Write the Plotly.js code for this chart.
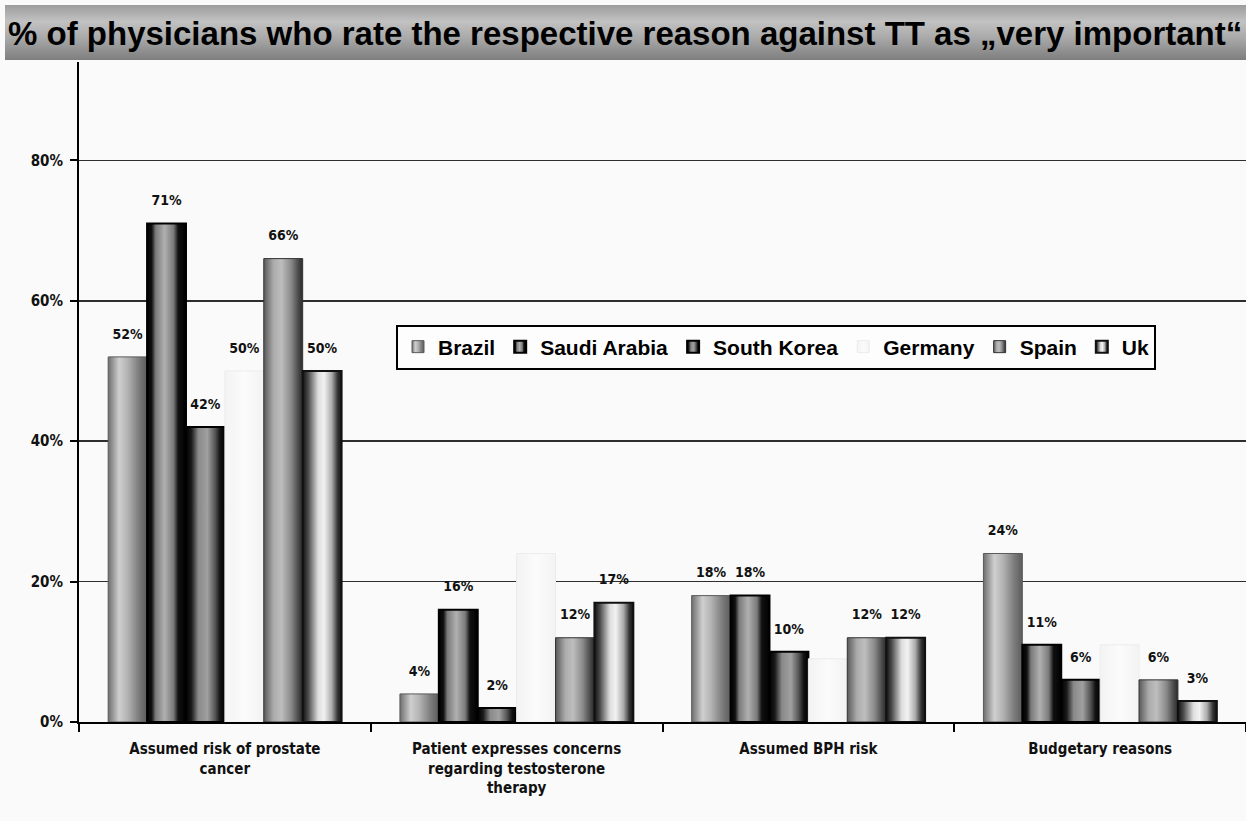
<!DOCTYPE html>
<html>
<head>
<meta charset="utf-8">
<script src="https://cdn.plot.ly/plotly-3.0.1.min.js"></script>
<style>
  html, body { margin: 0; padding: 0; background: #fafafa; }
  #chart { width: 1246px; height: 821px; }
</style>
</head>
<body>
<div id="chart"></div>
<script>
// Reasons against testosterone therapy, grouped by country
const categories = [
  'Assumed risk of prostate<br>cancer',
  'Patient expresses concerns<br>regarding testosterone<br>therapy',
  'Assumed BPH risk',
  'Budgetary reasons'
];
const countries = ['Brazil', 'Saudi Arabia', 'South Korea', 'Germany', 'Spain', 'Uk'];

const brazil  = [52, 4, 18, 24];
const saudi   = [71, 16, 18, 11];
const korea   = [42, 2, 10, 6];
const germany = [50, 24, 9, 11];
const spain   = [66, 12, 12, 6];
const uk      = [50, 17, 12, 3];

// Only the first Germany bar carries a printed value
const germanyLabels = ['50%', '', '', ''];

const yTickVals = [0, 20, 40, 60, 80];
const yTickText = ['0%', '20%', '40%', '60%', '80%'];

const seriesValues = [brazil, saudi, korea, germany, spain, uk];

// Base colours (also used as fallbacks) and outlines per country
const baseColors = ['#a0a0a0', '#6a6a6a', '#5a5a5a', '#f6f6f6', '#8f8f8f', '#9a9a9a'];
const lineColors = ['#5a5a5a', '#000000', '#000000', '#ececec', '#333333', '#111111'];
const lineWidths = [1, 2, 2, 1, 1, 2];

// Cylinder-like shading, left to right across each bar
const barGradients = [
  [[0, '#6e6e6e'], [0.28, '#cfcfcf'], [0.5, '#b3b3b3'], [0.8, '#7a7a7a'], [1, '#5c5c5c']],
  [[0, '#000'], [0.12, '#111'], [0.22, '#7a7a7a'], [0.45, '#b0b0b0'], [0.68, '#7a7a7a'], [0.8, '#111'], [1, '#000']],
  [[0, '#000'], [0.14, '#1a1a1a'], [0.32, '#8a8a8a'], [0.55, '#a0a0a0'], [0.75, '#555'], [0.88, '#111'], [1, '#000']],
  [[0, '#f3f3f3'], [0.5, '#fbfbfb'], [1, '#f3f3f3']],
  [[0, '#5a5a5a'], [0.25, '#ababab'], [0.45, '#bebebe'], [0.7, '#8a8a8a'], [0.9, '#474747'], [1, '#2a2a2a']],
  [[0, '#111'], [0.14, '#4a4a4a'], [0.4, '#dedede'], [0.55, '#f2f2f2'], [0.75, '#aaaaaa'], [0.9, '#333'], [1, '#111']]
];

const condensed = '"Liberation Sans Narrow", "DejaVu Sans Condensed", "Arial Narrow", sans-serif';
const labelFont = { family: condensed, size: 14, color: '#111', weight: 'bold' };

const traces = [];
seriesValues.forEach((vals, i) => {
  traces.push({
    type: 'bar',
    name: countries[i],
    x: categories,
    y: vals,
    offsetgroup: 'g' + i,
    marker: { color: baseColors[i], line: { color: lineColors[i], width: lineWidths[i] } },
    hoverinfo: 'skip'
  });
});
// Value labels sit a little above each bar
seriesValues.forEach((vals, i) => {
  traces.push({
    type: 'scatter',
    mode: 'markers+text',
    orientation: 'v',
    offsetgroup: 'g' + i,
    x: categories,
    y: vals,
    text: i === 3 ? germanyLabels : vals.map(v => v + '%'),
    textposition: 'top center',
    textfont: labelFont,
    marker: { size: 22, opacity: 0 },
    cliponaxis: false,
    showlegend: false,
    hoverinfo: 'skip'
  });
});

const plotLeft = 79, plotRight = 1246, plotTop = 62, plotBottom = 722;
const plotW = plotRight - plotLeft, plotH = plotBottom - plotTop;

const layout = {
  width: 1246,
  height: 821,
  margin: { l: plotLeft, r: 1246 - plotRight, t: plotTop, b: 821 - plotBottom, pad: 0 },
  paper_bgcolor: '#fafafa',
  plot_bgcolor: '#fafafa',
  barmode: 'group',
  bargap: 0.2,
  bargroupgap: 0,
  scattermode: 'group',
  scattergap: 0.2,
  showlegend: true,
  title: {
    text: '% of physicians who rate the respective reason against TT as \u201Every important\u201C',
    x: 8 / 1246, xref: 'container', xanchor: 'left',
    y: 1 - 33 / 821, yref: 'container', yanchor: 'middle',
    font: { family: '"Liberation Sans", Arial, sans-serif', size: 33, color: '#000', weight: 'bold' }
  },
  xaxis: {
    type: 'category',
    range: [-0.5, 3.5],
    showline: true, linecolor: '#000', linewidth: 2,
    ticks: 'outside', tickson: 'boundaries', ticklen: 8, tickwidth: 2, tickcolor: '#000',
    ticklabelstandoff: 12,
    tickfont: { family: condensed, size: 15, color: '#111', weight: 'bold' },
    showgrid: false, zeroline: false, fixedrange: true
  },
  yaxis: {
    range: [0, 94],
    tickvals: yTickVals, ticktext: yTickText,
    showline: true, linecolor: '#000', linewidth: 2,
    ticks: 'outside', ticklen: 7, tickwidth: 2, tickcolor: '#000',
    ticklabelstandoff: 4,
    tickfont: { family: condensed, size: 15, color: '#111', weight: 'bold' },
    showgrid: true, gridcolor: '#2e2e2e', gridwidth: 1.6,
    zeroline: false, fixedrange: true
  },
  legend: {
    orientation: 'h',
    x: (776 - plotLeft) / plotW, xanchor: 'center',
    y: (plotBottom - 347) / plotH, yanchor: 'middle',
    bgcolor: '#fdfdfd', bordercolor: '#000', borderwidth: 2,
    font: { family: '"Liberation Sans", Arial, sans-serif', size: 21, color: '#000', weight: 'bold' },
    traceorder: 'normal'
  },
  shapes: [{
    type: 'rect', layer: 'below',
    xref: 'paper', yref: 'paper',
    x0: (5 - plotLeft) / plotW, x1: 1,
    y0: (plotBottom - 60) / plotH, y1: (plotBottom - 5) / plotH,
    fillcolor: '#a8a8a8', line: { width: 0 }
  }]
};

const gd = document.getElementById('chart');
Plotly.newPlot(gd, traces, layout, { staticPlot: true, displayModeBar: false }).then(() => {
  const svg = gd.querySelector('svg.main-svg');
  const ns = 'http://www.w3.org/2000/svg';
  let defs = svg.querySelector('defs');
  if (!defs) { defs = document.createElementNS(ns, 'defs'); svg.insertBefore(defs, svg.firstChild); }

  function addGradient(id, stops, vertical) {
    const g = document.createElementNS(ns, 'linearGradient');
    g.setAttribute('id', id);
    g.setAttribute('x1', '0'); g.setAttribute('y1', '0');
    g.setAttribute('x2', vertical ? '0' : '1'); g.setAttribute('y2', vertical ? '1' : '0');
    stops.forEach(([o, c]) => {
      const s = document.createElementNS(ns, 'stop');
      s.setAttribute('offset', o);
      s.setAttribute('stop-color', c);
      g.appendChild(s);
    });
    defs.appendChild(g);
  }

  barGradients.forEach((stops, i) => addGradient('barShade' + i, stops, false));
  addGradient('titleShade', [[0, '#9c9c9c'], [0.3, '#c2c2c2'], [0.6, '#a9a9a9'], [1, '#7e7e7e']], true);

  gd.querySelectorAll('.barlayer .trace').forEach((tr, i) => {
    tr.querySelectorAll('path').forEach(p => { p.style.fill = 'url(#barShade' + i + ')'; });
  });
  gd.querySelectorAll('.legend .traces').forEach((tr, i) => {
    tr.querySelectorAll('.legendpoints path').forEach(p => { p.style.fill = 'url(#barShade' + i + ')'; });
  });
  gd.querySelectorAll('.shapelayer path').forEach(p => { p.style.fill = 'url(#titleShade)'; });
});
</script>
</body>
</html>
